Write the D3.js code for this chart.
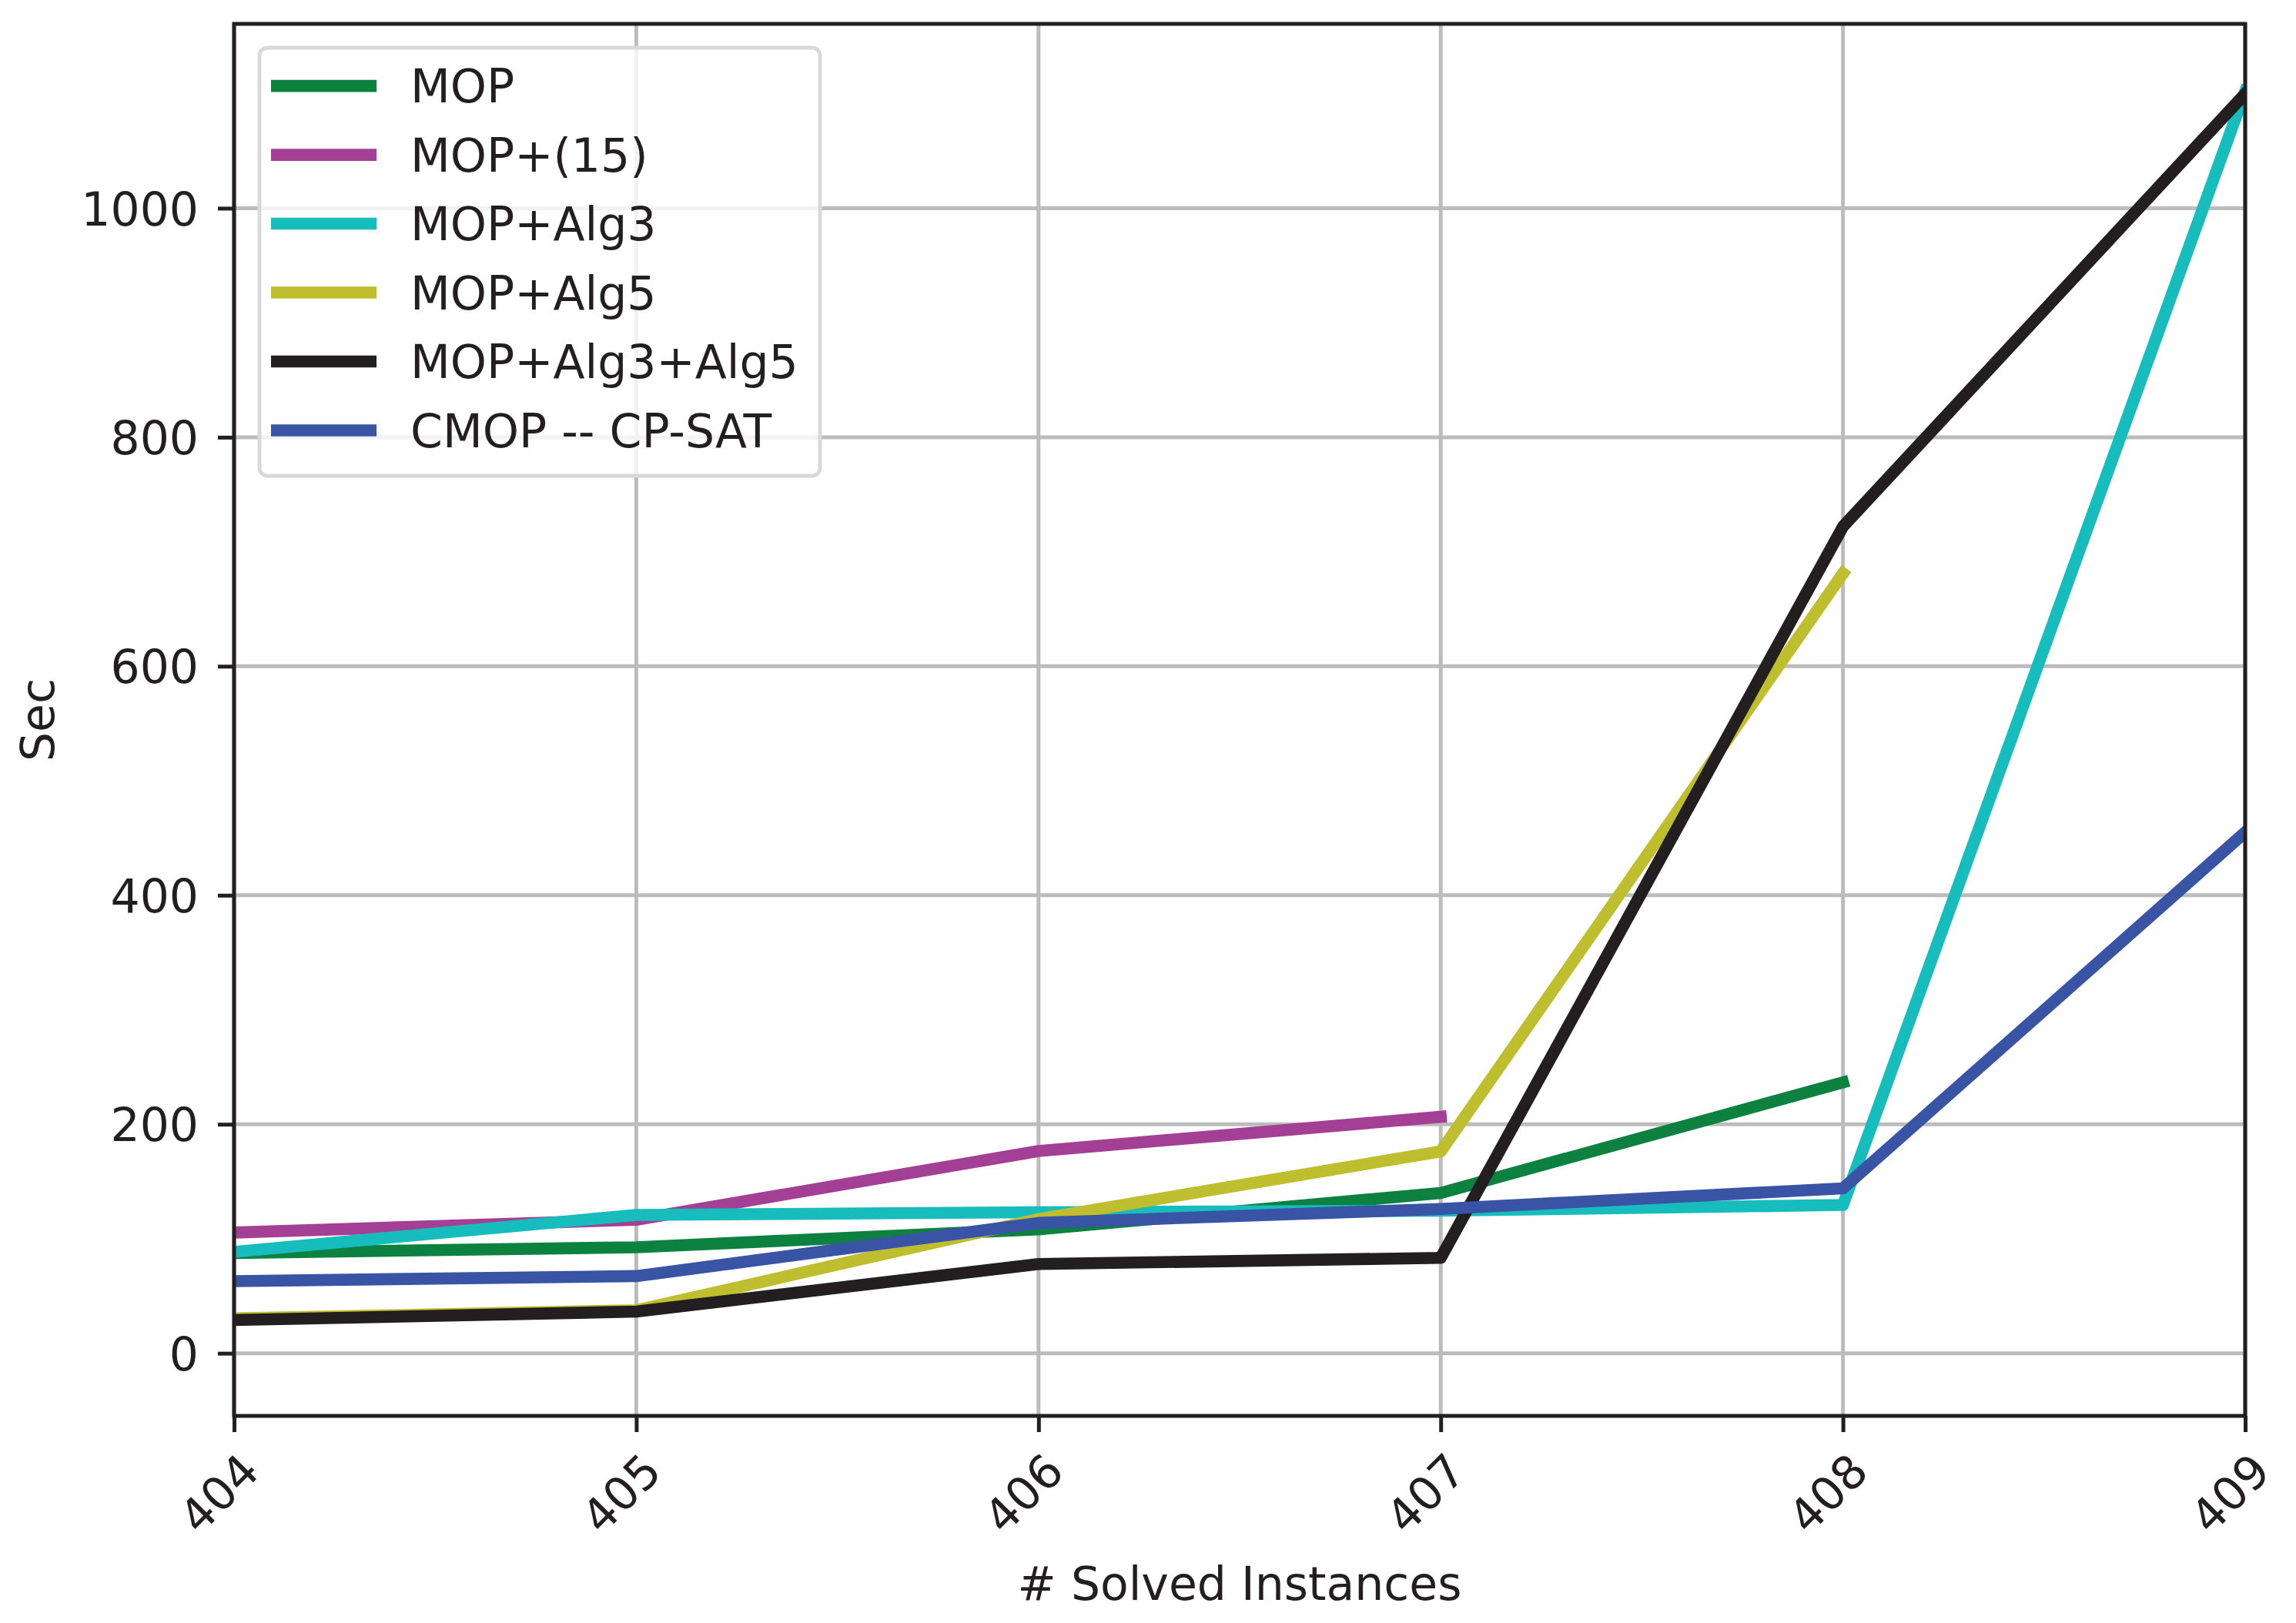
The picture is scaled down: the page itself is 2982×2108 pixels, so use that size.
<!DOCTYPE html>
<html>
<head>
<meta charset="utf-8">
<script src="https://cdn.jsdelivr.net/npm/d3@7"></script>
<style>
  html, body { margin: 0; padding: 0; background: #ffffff; }
  svg { display: block; }
  text { font-family: "DejaVu Sans", sans-serif; fill: #231f20; }
</style>
</head>
<body>
<svg id="chart" width="2982" height="2108"></svg>
<script>
// ---- data ----
const xValues = [404, 405, 406, 407, 408, 409];
const xTickLabels = ["404", "405", "406", "407", "408", "409"];
const yTickValues = [0, 200, 400, 600, 800, 1000];
const seriesNames = ["MOP", "MOP+(15)", "MOP+Alg3", "MOP+Alg5", "MOP+Alg3+Alg5", "CMOP -- CP-SAT"];
const seriesColors = ["#0c8140", "#a33f95", "#17bdbc", "#bebe2f", "#231f20", "#3954a4"];
const mopValues      = [87.5, 92.6, 108.2, 140.0, 236.6];
const mop15Values    = [105.4, 116.6, 176.6, 206.5];
const alg3Values     = [88.5, 120.8, 123.2, 124.5, 129.5, 1102];
const alg5Values     = [30.5, 37.5, 117.2, 176.3, 681];
const alg35Values    = [29.0, 36.4, 77.9, 83.3, 722, 1100];
const cmopValues     = [63.0, 67.4, 113.8, 126.0, 144.0, 455];
const allSeries = [mopValues, mop15Values, alg3Values, alg5Values, alg35Values, cmopValues];
const xLabel = "# Solved Instances";
const yLabel = "Sec";

// ---- layout ----
const L = 304, R = 2916, T = 31, B = 1839;
const svg = d3.select("#chart");
svg.append("rect").attr("width", 2982).attr("height", 2108).attr("fill", "#fff");

const x = d3.scaleLinear().domain([404, 409]).range([L, R]);
const y = d3.scaleLinear().domain([-54.7, 1161]).range([B, T]);

svg.append("defs").append("clipPath").attr("id", "clip")
  .append("rect").attr("x", L).attr("y", T).attr("width", R - L).attr("height", B - T);

// grid
const grid = svg.append("g");
grid.selectAll("line.gx").data(xValues).join("line")
  .attr("x1", d => x(d)).attr("x2", d => x(d)).attr("y1", T).attr("y2", B)
  .attr("stroke", "#bcbcbc").attr("stroke-width", 5);
grid.selectAll("line.gy").data(yTickValues).join("line")
  .attr("class", "gy")
  .attr("x1", L).attr("x2", R).attr("y1", d => y(d)).attr("y2", d => y(d))
  .attr("stroke", "#bcbcbc").attr("stroke-width", 5);

// lines
const lineGen = d3.line().x((d, i) => x(xValues[i])).y(d => y(d));
const lines = svg.append("g").attr("clip-path", "url(#clip)");
allSeries.forEach((vals, k) => {
  lines.append("path").datum(vals)
    .attr("d", lineGen)
    .attr("fill", "none")
    .attr("stroke", seriesColors[k])
    .attr("stroke-width", 15.6)
    .attr("stroke-linejoin", "round")
    .attr("stroke-linecap", "square");
});

// axes
const xAxis = d3.axisBottom(x).tickValues(xValues).tickFormat((d, i) => xTickLabels[i])
  .tickSize(21).tickPadding(0);
const gx = svg.append("g").attr("transform", `translate(0,${B})`).call(xAxis);
gx.select(".domain").remove();
gx.selectAll(".tick line").attr("stroke", "#231f20").attr("stroke-width", 5);
gx.selectAll(".tick text")
  .attr("font-size", 60)
  .attr("text-anchor", "middle")
  .attr("dominant-baseline", "central")
  .attr("dy", null).attr("y", null)
  .attr("transform", "translate(-20,101) rotate(-45)")
  .style("fill", "#231f20");

const yAxis = d3.axisLeft(y).tickValues(yTickValues).tickFormat(d3.format("d"))
  .tickSize(21).tickPadding(25);
const gy = svg.append("g").attr("transform", `translate(${L},0)`).call(yAxis);
gy.select(".domain").remove();
gy.selectAll(".tick line").attr("stroke", "#231f20").attr("stroke-width", 5);
gy.selectAll(".tick text").attr("font-size", 60).attr("dy", "0.36em").style("fill", "#231f20");

// spines
svg.append("rect").attr("x", L).attr("y", T).attr("width", R - L).attr("height", B - T)
  .attr("fill", "none").attr("stroke", "#231f20").attr("stroke-width", 5);

// axis labels
svg.append("text").attr("x", (L + R) / 2).attr("y", 2078)
  .attr("text-anchor", "middle").attr("font-size", 60).text(xLabel);
svg.append("text").attr("transform", `translate(70,${(T + B) / 2}) rotate(-90)`)
  .attr("text-anchor", "middle").attr("font-size", 60).text(yLabel);

// legend
const lg = svg.append("g");
lg.append("rect").attr("x", 337).attr("y", 62).attr("width", 728).attr("height", 556)
  .attr("rx", 10).attr("ry", 10)
  .attr("fill", "#ffffff").attr("fill-opacity", 0.8)
  .attr("stroke", "#d9d9d9").attr("stroke-width", 5);
const rowY = d3.scaleLinear().domain([0, seriesNames.length - 1]).range([111.6, 559]);
seriesNames.forEach((name, k) => {
  lg.append("line").attr("x1", 352).attr("x2", 489)
    .attr("y1", rowY(k)).attr("y2", rowY(k))
    .attr("stroke", seriesColors[k]).attr("stroke-width", 15.6);
  lg.append("text").attr("x", 533).attr("y", rowY(k)).attr("dy", "0.36em")
    .attr("font-size", 60).text(name);
});
</script>
</body>
</html>
